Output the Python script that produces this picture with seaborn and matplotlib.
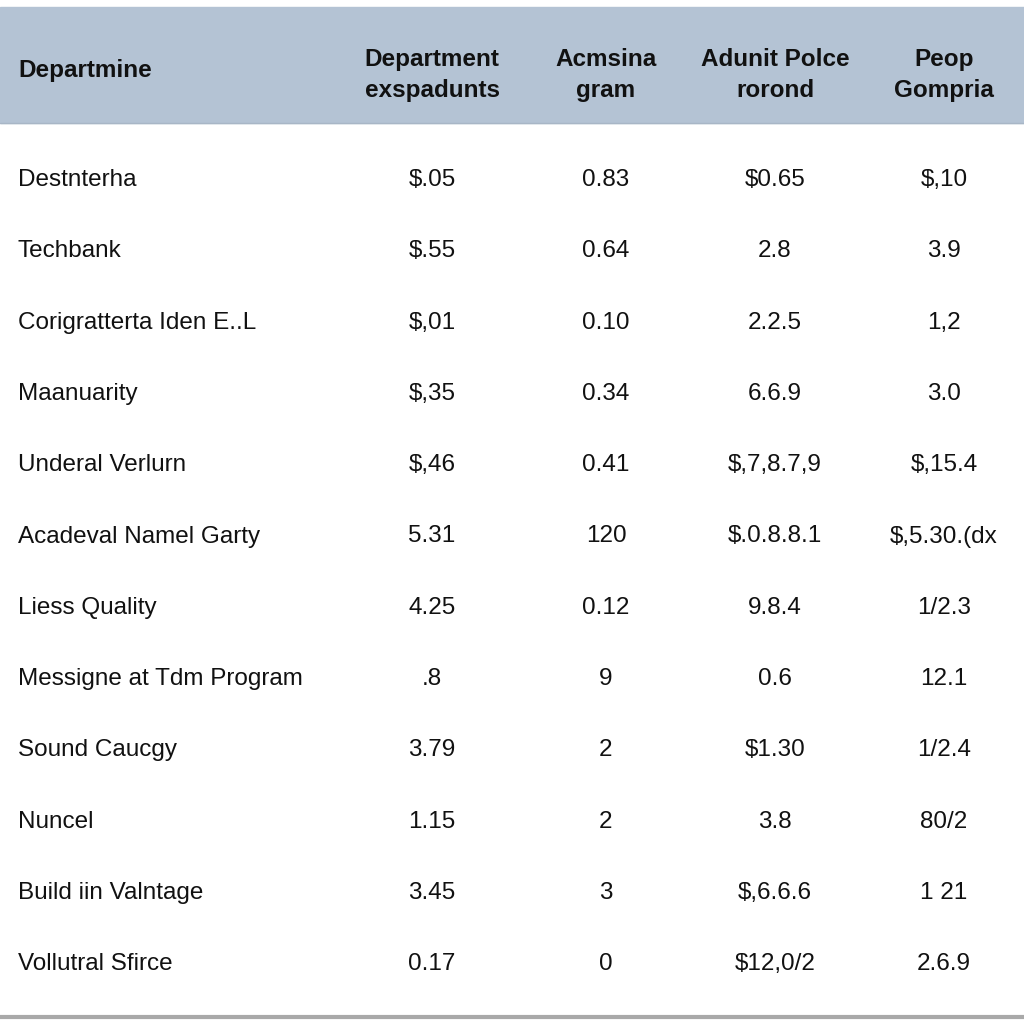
import matplotlib
matplotlib.use("Agg")
import matplotlib.pyplot as plt
import seaborn as sns

# table content
header_first = "Departmine"
col_headers = ["Department\nexspadunts", "Acmsina\ngram", "Adunit Polce\nrorond", "Peop\nGompria"]

row_labels = [
    "Destnterha", "Techbank", "Corigratterta Iden E..L", "Maanuarity",
    "Underal Verlurn", "Acadeval Namel Garty", "Liess Quality",
    "Messigne at Tdm Program", "Sound Caucgy", "Nuncel",
    "Build iin Valntage", "Vollutral Sfirce",
]
col1 = ["$.05", "$.55", "$,01", "$,35", "$,46", "5.31", "4.25", ".8", "3.79", "1.15", "3.45", "0.17"]
col2 = ["0.83", "0.64", "0.10", "0.34", "0.41", "120", "0.12", "9", "2", "2", "3", "0"]
col3 = ["$0.65", "2.8", "2.2.5", "6.6.9", "$,7,8.7,9", "$.0.8.8.1", "9.8.4", "0.6", "$1.30", "3.8", "$,6.6.6", "$12,0/2"]
col4 = ["$,10", "3.9", "1,2", "3.0", "$,15.4", "$,5.30.(dx", "1/2.3", "12.1", "1/2.4", "80/2", "1 21", "2.6.9"]

sns.set_theme(style="white")
plt.rcParams["font.family"] = ["Liberation Sans", "DejaVu Sans"]

fig = plt.figure(figsize=(10.24, 10.24), dpi=100)
ax = fig.add_axes([0, 0, 1, 1])
ax.set_xlim(0, 1024)
ax.set_ylim(1024, 0)
ax.axis("off")

# header band and bottom rule
ax.axhspan(7, 123, color="#b4c3d4", zorder=0)
ax.axhline(123, color="#a8b6c6", lw=1)
ax.axhline(1017, color="#a9a9a9", lw=3)

head_font = ["Liberation Sans Narrow", "Liberation Sans", "DejaVu Sans"]
col_x = [432, 606, 775, 944]

ax.text(18, 71, header_first, ha="left", va="center", fontsize=17.5,
        fontweight="bold", family=head_font, color="#111111")
for x, h in zip(col_x, col_headers):
    ax.text(x, 75, h, ha="center", va="center", fontsize=17.5, fontweight="bold",
            family=head_font, color="#111111", linespacing=1.45)

row_y0 = 180
row_step = 71.3
for i, label in enumerate(row_labels):
    y = row_y0 + i * row_step
    ax.text(18, y, label, ha="left", va="center", fontsize=17.5, color="#111111")
    for x, col in zip(col_x, [col1, col2, col3, col4]):
        ax.text(x, y, col[i], ha="center", va="center", fontsize=17.5, color="#111111")

fig.savefig("out.png", dpi=100)
plt.close(fig)
